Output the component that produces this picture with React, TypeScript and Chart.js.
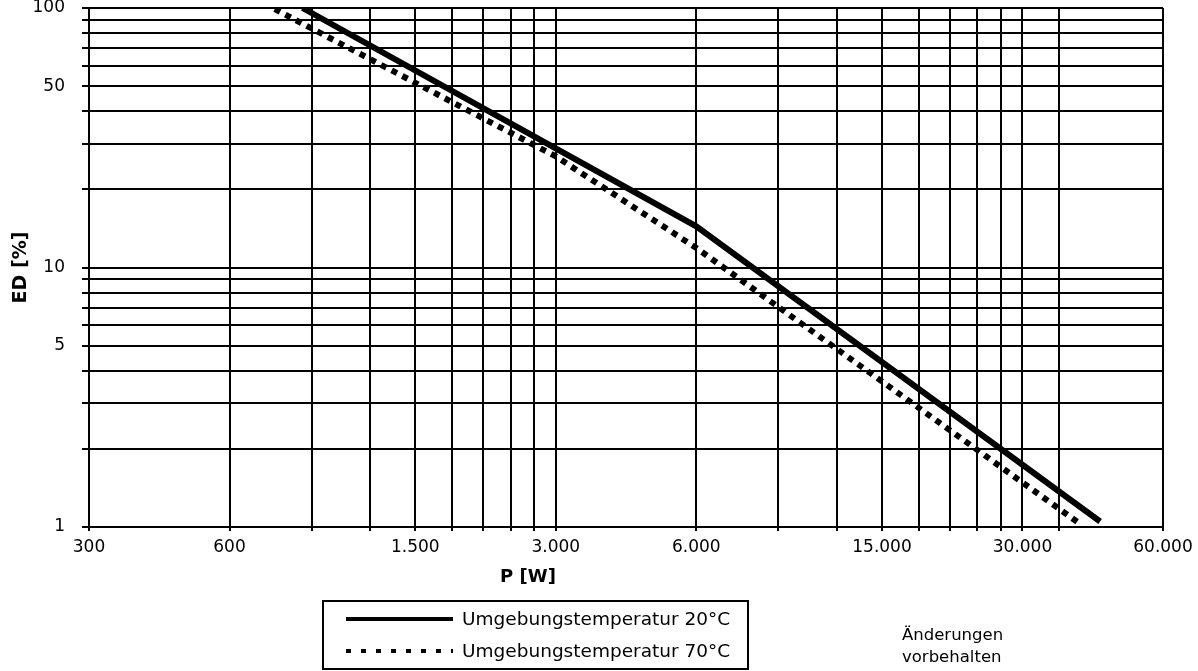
import { useEffect, useRef } from 'react';
import { Chart, registerables } from 'chart.js';

Chart.register(...registerables);

const FONT = '"DejaVu Sans", "Liberation Sans", sans-serif';

// ---- data ----
const series20Label = 'Umgebungstemperatur 20°C';
const series70Label = 'Umgebungstemperatur 70°C';

const p20 = [860, 6000, 44000];
const ed20 = [100, 14.4, 1.05];

const p70 = [750, 3000, 6000, 39500];
const ed70 = [99, 26.8, 11.9, 1.04];

// ---- axes ----
const xMin = 300;
const xMax = 60000;
const yMin = 1;
const yMax = 100;
const xGridTicks = [300, 600, 900, 1200, 1500, 1800, 2100, 2400, 2700, 3000, 6000, 9000, 12000, 15000, 18000, 21000, 24000, 27000, 30000, 36000, 60000];
const xLabeledTicks = [300, 600, 1500, 3000, 6000, 15000, 30000, 60000];
const yGridTicks = [1, 2, 3, 4, 5, 6, 7, 8, 9, 10, 20, 30, 40, 50, 60, 70, 80, 90, 100];
const yLabeledTicks = [1, 5, 10, 50, 100];

const xTitle = 'P [W]';
const yTitle = 'ED [%]';
const noteLines = ['Änderungen', 'vorbehalten'];

const fmtDE = (v: number) => String(Math.round(v)).replace(/\B(?=(\d{3})+(?!\d))/g, '.');

const extrasPlugin = {
  id: 'extras',
  afterDraw(chart: any) {
    const { ctx } = chart;
    ctx.save();
    ctx.fillStyle = '#000';
    ctx.strokeStyle = '#000';

    // x-axis title
    ctx.font = `bold 18px ${FONT}`;
    ctx.textAlign = 'center';
    ctx.textBaseline = 'middle';
    ctx.fillText(xTitle, 528, 577);

    // legend box
    ctx.lineWidth = 2;
    ctx.setLineDash([]);
    ctx.strokeRect(323, 601, 425, 68);

    const rows = [619, 651];
    const dashes = [[], [5, 10]];
    chart.data.datasets.forEach((ds: any, i: number) => {
      const y = rows[i];
      ctx.save();
      ctx.lineWidth = 4;
      ctx.lineCap = 'butt';
      ctx.setLineDash(dashes[i]);
      ctx.beginPath();
      ctx.moveTo(346, y);
      ctx.lineTo(453, y);
      ctx.stroke();
      ctx.restore();
      ctx.font = `18.5px ${FONT}`;
      ctx.textAlign = 'left';
      ctx.textBaseline = 'middle';
      ctx.fillText(ds.label, 462, y + 1);
    });

    // note
    ctx.font = `16.5px ${FONT}`;
    ctx.textAlign = 'left';
    ctx.textBaseline = 'middle';
    ctx.fillText(noteLines[0], 902, 636);
    ctx.fillText(noteLines[1], 902, 658);

    ctx.restore();
  },
};

export default function App() {
  const canvasRef = useRef<HTMLCanvasElement | null>(null);

  useEffect(() => {
    if (!canvasRef.current) return;
    const chart = new Chart(canvasRef.current, {
      type: 'line',
      data: {
        datasets: [
          {
            label: series20Label,
            data: p20.map((x, i) => ({ x, y: ed20[i] })),
            borderColor: '#000',
            backgroundColor: '#000',
            borderWidth: 6,
            pointRadius: 0,
            tension: 0,
            borderCapStyle: 'butt',
          },
          {
            label: series70Label,
            data: p70.map((x, i) => ({ x, y: ed70[i] })),
            borderColor: '#000',
            backgroundColor: '#000',
            borderWidth: 6,
            borderDash: [6, 6],
            pointRadius: 0,
            tension: 0,
            borderCapStyle: 'butt',
          },
        ],
      },
      options: {
        animation: false,
        responsive: true,
        maintainAspectRatio: false,
        layout: { padding: { left: 0, right: 35, top: 8, bottom: 0 } },
        plugins: {
          legend: { display: false },
          tooltip: { enabled: false },
        },
        scales: {
          x: {
            type: 'logarithmic',
            min: xMin,
            max: xMax,
            afterBuildTicks: (s: any) => {
              s.ticks = xGridTicks.map((v) => ({ value: v }));
            },
            afterFit: (s: any) => {
              s.height = 144;
              s.paddingLeft = 0;
              s.paddingRight = 0;
            },
            ticks: {
              autoSkip: false,
              maxRotation: 0,
              minRotation: 0,
              padding: 8,
              color: '#000',
              font: { family: FONT, size: 17, lineHeight: 1 },
              callback: (v: any) => (xLabeledTicks.includes(Number(v)) ? fmtDE(Number(v)) : ''),
            },
            grid: { color: '#000', lineWidth: 2, tickLength: 4, tickColor: '#000', drawTicks: true },
            border: { color: '#000', width: 2 },
          },
          y: {
            type: 'logarithmic',
            min: yMin,
            max: yMax,
            afterBuildTicks: (s: any) => {
              s.ticks = yGridTicks.map((v) => ({ value: v }));
            },
            afterFit: (s: any) => {
              s.width = 89;
              s.paddingTop = 0;
              s.paddingBottom = 0;
            },
            title: {
              display: true,
              text: yTitle,
              color: '#000',
              font: { family: FONT, size: 19, weight: 'bold' },
              padding: { top: 10, bottom: 0 },
            },
            ticks: {
              autoSkip: false,
              padding: 17,
              color: '#000',
              font: { family: FONT, size: 17, lineHeight: 1 },
              callback: (v: any) => (yLabeledTicks.includes(Number(v)) ? String(v) : ''),
            },
            grid: { color: '#000', lineWidth: 2, tickLength: 7, tickColor: '#000', drawTicks: true },
            border: { color: '#000', width: 2 },
          },
        },
      } as any,
      plugins: [extrasPlugin],
    });
    return () => chart.destroy();
  }, []);

  return (
    <div style={{ position: 'fixed', left: 0, top: 0, width: '1198px', height: '671px', background: '#fff' }}>
      <canvas ref={canvasRef} />
    </div>
  );
}
